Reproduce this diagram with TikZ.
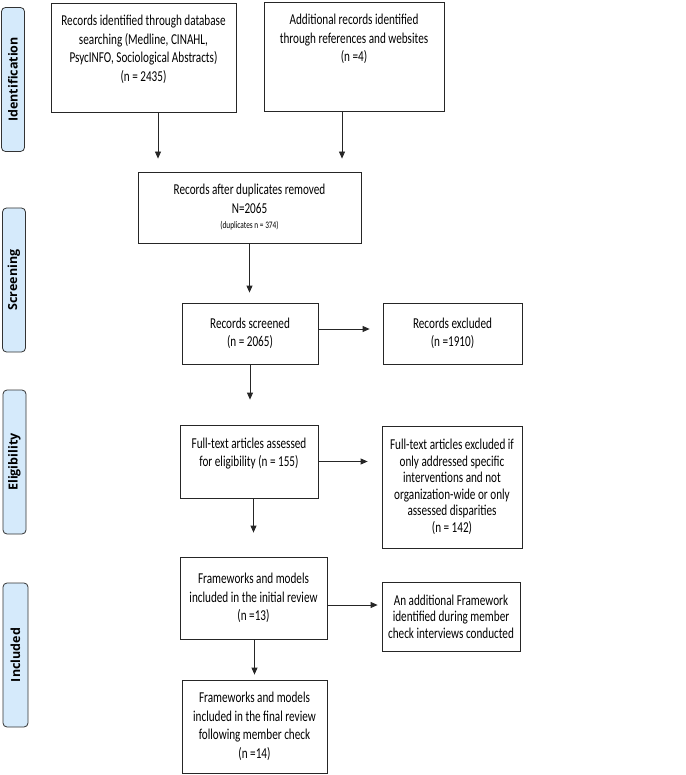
\documentclass[tikz,border=0pt]{standalone}
\usepackage{fontspec}
\setmainfont{Carlito}[FakeStretch=0.74]
\newfontfamily\labfont{Open Sans}
\usetikzlibrary{arrows.meta}
\definecolor{labblue}{HTML}{D5EAFB}
\tikzset{
  box/.style={draw=black!85, line width=0.8pt, align=center, inner sep=2pt,
    font=\fontsize{15.1}{18.5}\selectfont},
  boxs/.style={box, font=\fontsize{15.1}{16.5}\selectfont},
  phase/.style={draw=black!80, line width=0.8pt, fill=labblue, rounded corners=4pt,
    rotate=90, minimum width=144pt, minimum height=23pt, inner sep=0pt,
    font=\labfont\bfseries\fontsize{12.5}{13}\selectfont},
  arr/.style={-{Triangle[length=7pt,width=6pt]}, line width=0.8pt, black!85}
}
\begin{document}
\begin{tikzpicture}[x=1pt, y=-1pt]
\useasboundingbox (0,0) rectangle (685,775);

% phases
\node[phase] (p1) at (13,79.5) {Identification};
\node[phase] (p2) at (14,280) {Screening};
\node[phase] (p3) at (14.5,462) {Eligibility};
\node[phase, minimum height=25pt] (p4) at (15.5,655) {Included};

% boxes
\node[box, minimum width=185pt, minimum height=109pt] (a) at (143.5,57.5)
  {Records identified through database\\ searching (Medline, CINAHL,\\ PsycINFO, Sociological Abstracts)\\ (n = 2435)\\ ~};
\node[box, minimum width=180pt, minimum height=109pt] (b) at (354,56.5)
  {Additional records identified\\ through references and websites\\ (n =4)\\ ~\\ ~};
\node[box, minimum width=223pt, minimum height=71pt] (c) at (249.5,207.5)
  {Records after duplicates removed\\ N=2065\\[-3pt] {\fontsize{9.9}{11}\selectfont (duplicates n = 374)}};
\node[box, minimum width=136pt, minimum height=61pt] (d) at (250,333.5)
  {Records screened\\ (n = 2065)};
\node[box, minimum width=139pt, minimum height=61pt] (e) at (452.5,333.5)
  {Records excluded\\ (n =1910)};
\node[box, minimum width=138pt, minimum height=73pt] (f) at (249,461.5)
  {Full-text articles assessed\\ for eligibility (n = 155)\\ ~};
\node[boxs, minimum width=140pt, minimum height=122pt] (g) at (452,487)
  {Full-text articles excluded if\\ only addressed specific\\ interventions and not\\ organization-wide or only\\ assessed disparities\\ (n = 142)};
\node[box, minimum width=147pt, minimum height=82pt] (h) at (253.5,598)
  {Frameworks and models\\ included in the initial review\\ (n =13)};
\node[boxs, minimum width=138pt, minimum height=69pt] (i) at (451,616.5)
  {An additional Framework\\ identified during member\\ check interviews conducted};
\node[box, minimum width=145pt, minimum height=93pt] (j) at (254.5,726.5)
  {Frameworks and models\\ included in the final review\\ following member check\\ (n =14)};

% connectors
\begin{scope}[arr]
\draw[shorten >=13pt] ([xshift=14.5pt]a.south) -- ([xshift=14.5pt]a.south |- c.north);
\draw[shorten >=13pt] ([xshift=-12pt]b.south) -- ([xshift=-12pt]b.south |- c.north);
\draw[shorten >=10pt] (c.south) -- (c.south |- d.north);
\draw[shorten >=13pt] ([yshift=4.5pt]d.east) -- ([yshift=4.5pt]d.east -| e.west);
\draw[shorten >=25pt] (d.south) -- (d.south |- f.north);
\draw[shorten >=14pt] (f.east) -- (f.east -| g.west);
\draw[shorten >=24pt] (h.north |- f.south) -- (h.north);
\draw[shorten >=4pt] ([yshift=-7pt]h.east) -- ([yshift=-7pt]h.east -| i.west);
\draw[shorten >=5pt] (j.north |- h.south) -- (j.north);
\end{scope}
\end{tikzpicture}
\end{document}
